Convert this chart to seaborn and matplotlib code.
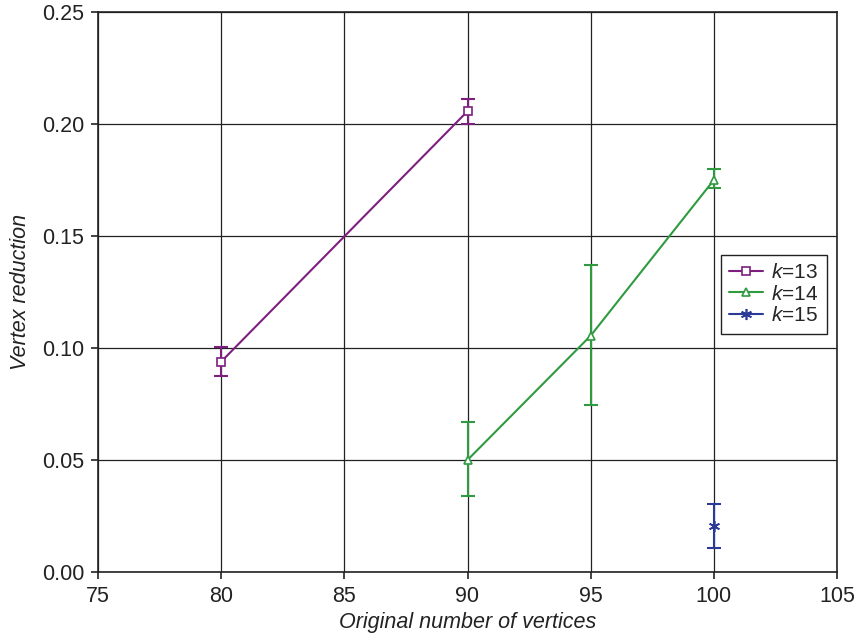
import numpy as np
import pandas as pd
import matplotlib
matplotlib.use('Agg')
import matplotlib.pyplot as plt
import seaborn as sns

# values
k13_x = [80, 90]
k13_y = [0.0939, 0.2057]
k13_lo = [0.0877, 0.2000]
k13_hi = [0.1006, 0.2110]

k14_x = [90, 95, 100]
k14_y = [0.0500, 0.1055, 0.1750]
k14_lo = [0.0340, 0.0745, 0.1715]
k14_hi = [0.0670, 0.1370, 0.1800]

k15_x = [100]
k15_y = [0.0206]
k15_lo = [0.0107]
k15_hi = [0.0302]

series = [
    ('$k$=13', k13_x, k13_y, k13_lo, k13_hi, '#7d1f7f', 's', 6),
    ('$k$=14', k14_x, k14_y, k14_lo, k14_hi, '#2f9a3f', '^', 6),
    ('$k$=15', k15_x, k15_y, k15_lo, k15_hi, '#2b3a97', (6, 2, 0), 8),
]

sns.set_theme(style='white')
plt.rcParams['font.family'] = ['Liberation Sans', 'DejaVu Sans']
plt.rcParams['mathtext.fontset'] = 'custom'
plt.rcParams['mathtext.it'] = 'Liberation Sans:italic'
plt.rcParams['mathtext.rm'] = 'Liberation Sans'

fig = plt.figure(figsize=(8.55, 6.39), dpi=100)
ax = fig.add_axes([98 / 855, 1 - 572 / 639, (837 - 98) / 855, (572 - 12) / 639])

for label, xs, ys, lo, hi, color, marker, ms in series:
    df = pd.DataFrame({'x': xs, 'y': ys})
    ys_a = np.array(ys)
    yerr = [ys_a - np.array(lo), np.array(hi) - ys_a]
    ax.errorbar(df['x'], df['y'], yerr=yerr, fmt='none', ecolor=color,
                elinewidth=1.5, capsize=5, capthick=1.5, zorder=3)
    sns.lineplot(data=df, x='x', y='y', ax=ax, color=color, linewidth=1.5,
                 marker=marker, markersize=ms, markerfacecolor='white',
                 markeredgecolor=color, markeredgewidth=1.2, label=label,
                 zorder=4)

ax.set_xlim(75, 105)
ax.set_ylim(0, 0.25)
ax.set_xticks(np.arange(75, 106, 5))
ax.set_yticks(np.arange(0, 0.251, 0.05))
ax.set_yticklabels([f'{v:.2f}' for v in np.arange(0, 0.251, 0.05)])
ax.grid(True, color='#222222', linewidth=0.9)
ax.set_axisbelow(True)
for s in ax.spines.values():
    s.set_color('#222222')
    s.set_linewidth(1.2)
ax.tick_params(axis='both', direction='out', length=5, width=1.2,
               color='#222222', labelsize=15.5, colors='#222222', pad=5,
               bottom=True, left=True)
ax.set_xlabel('Original number of vertices', fontsize=15.5, style='italic',
              color='#222222', labelpad=4)
ax.set_ylabel('Vertex reduction', fontsize=15.5, style='italic',
              color='#222222', labelpad=8)

leg = ax.legend(loc='center right', bbox_to_anchor=(1.0, 0.496),
                fontsize=15, frameon=True, fancybox=False, framealpha=1,
                edgecolor='#222222', handlelength=1.6, handletextpad=0.4,
                borderpad=0.4, labelspacing=0.12)
leg.get_frame().set_linewidth(1.0)

fig.savefig('out.png', dpi=100)
